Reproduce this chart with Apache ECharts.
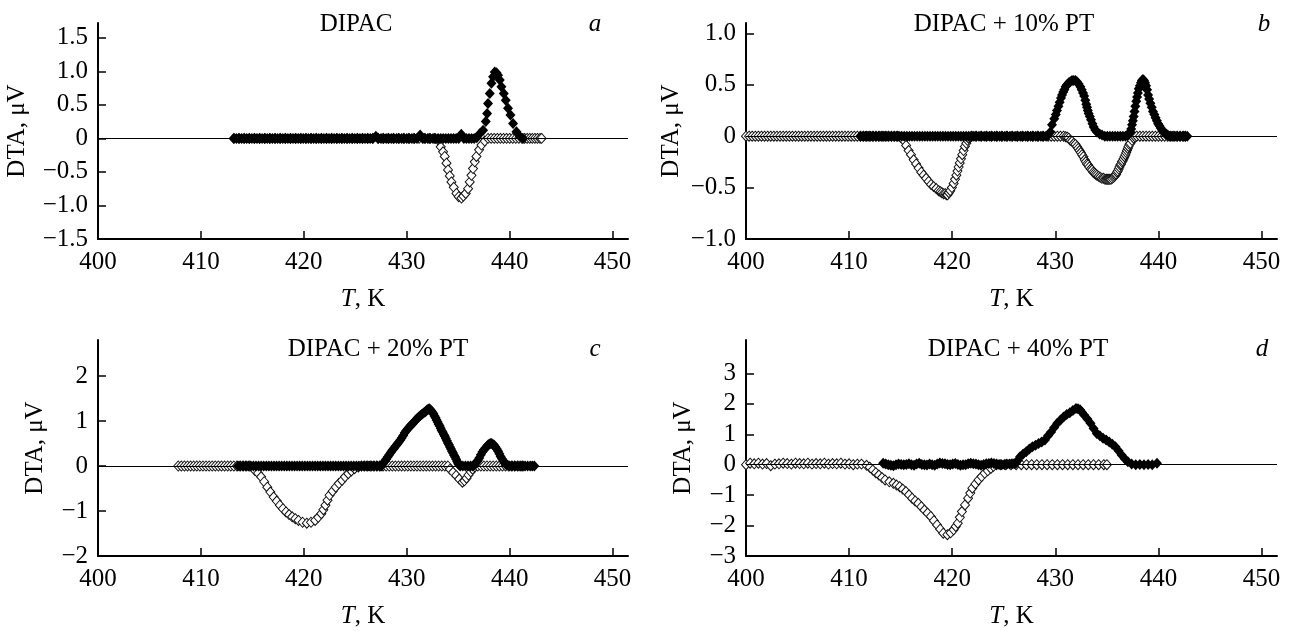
<!DOCTYPE html>
<html>
<head>
<meta charset="utf-8">
<script src="https://cdn.jsdelivr.net/npm/echarts@6/dist/echarts.min.js"></script>
<style>
html,body{margin:0;padding:0;background:#fff;}
#chart{width:1291px;height:631px;}
</style>
</head>
<body>
<div id="chart"></div>
<script>
// ---------- tick labels ----------
const xTicks = [400, 410, 420, 430, 440, 450];
const aYTicks = [-1.5, -1.0, -0.5, 0, 0.5, 1.0, 1.5];
const bYTicks = [-1.0, -0.5, 0, 0.5, 1.0];
const cYTicks = [-2, -1, 0, 1, 2];
const dYTicks = [-3, -2, -1, 0, 1, 2, 3];

const panelTitles = ['DIPAC', 'DIPAC + 10% PT', 'DIPAC + 20% PT', 'DIPAC + 40% PT'];
const panelLetters = ['a', 'b', 'c', 'd'];

// ---------- data: [T (K), DTA (µV)] ----------
// panel a: DIPAC
const aFilled = [
 [413.2,0],[413.45,0],[413.7,0],[413.95,0],[414.2,0],[414.45,0],[414.7,0],[414.95,0],[415.2,0],[415.45,0],
 [415.7,0],[415.95,0],[416.2,0],[416.45,0],[416.7,0],[416.95,0],[417.2,0],[417.45,0],[417.7,0],[417.95,0],
 [418.2,0],[418.45,0],[418.7,0],[418.95,0],[419.2,0],[419.45,0],[419.7,0],[419.95,0],[420.2,0],[420.45,0],
 [420.7,0],[420.95,0],[421.2,0],[421.45,0],[421.7,0],[421.95,0],[422.2,0],[422.45,0],[422.7,0],[422.95,0],
 [423.2,0],[423.45,0],[423.7,0],[423.95,0],[424.2,0],[424.45,0],[424.7,0],[424.95,0],[425.2,0],[425.45,0],
 [425.7,0],[425.95,0],[426.2,0],[426.45,0],[426.7,0],[427.0,0.03],[427.25,0],[427.5,0],[427.75,0],[428.0,0],
 [428.25,0],[428.5,0],[428.75,0],[429.0,0],[429.25,0],[429.5,0],[429.75,0],[430.0,0],[430.25,0],[430.5,0],
 [430.75,0],[431.0,0],[431.3,0.05],[431.55,0],[431.8,0],[432.05,0],[432.3,0],[432.55,0],[432.8,0],[433.05,0],
 [433.3,0],[433.55,0],[433.8,0],[434.05,0],[434.3,0],[434.55,0],[434.8,0],[435.05,0],[435.3,0.06],[435.55,0],
 [435.8,0],[436.05,0],[436.3,0],[436.55,0],[436.8,0.01],
 [437.09,0.07],[437.42,0.12],[437.68,0.25],[437.81,0.37],[437.9,0.52],[438.07,0.67],[438.23,0.82],
 [438.39,0.92],[438.55,0.99],[438.72,0.98],[438.87,0.94],[439.04,0.87],[439.2,0.77],[439.43,0.67],[439.62,0.57],
 [439.84,0.45],[440.08,0.35],[440.33,0.22],[440.66,0.10],[440.98,0.03],[441.3,0]
];
const aOpen = [
 [413.2,0],[413.7,0],[414.2,0],[414.7,0],[415.2,0],[415.7,0],[416.2,0],[416.7,0],[417.2,0],[417.7,0],
 [418.2,0],[418.7,0],[419.2,0],[419.7,0],[420.2,0],[420.7,0],[421.2,0],[421.7,0],[422.2,0],[422.7,0],
 [423.2,0],[423.7,0],[424.2,0],[424.7,0],[425.2,0],[425.7,0],[426.2,0],[426.7,0],[427.2,0],[427.7,0],
 [428.2,0],[428.7,0],[429.2,0],[429.7,0],[430.2,0],[430.7,0],[431.2,0],[431.7,0],[432.2,0],[432.7,0],
 [433.04,-0.02],[433.3,-0.125],[433.53,-0.20],[433.69,-0.27],[433.86,-0.37],[434.01,-0.47],[434.18,-0.56],
 [434.34,-0.65],[434.57,-0.73],[434.83,-0.82],[435.05,-0.87],[435.32,-0.89],[435.5,-0.86],[435.73,-0.82],
 [435.96,-0.75],[436.12,-0.65],[436.29,-0.55],[436.44,-0.45],[436.61,-0.35],[436.77,-0.27],[437.03,-0.17],
 [437.26,-0.10],[437.58,-0.04],[437.9,0],[438.2,0],[438.5,0],[438.8,0],[439.1,0],[439.4,0],[439.7,0],
 [440.0,0],[440.3,0],[440.6,0],[440.9,0],[441.2,0],[441.45,0],[441.7,0],[441.95,0],[442.2,0],[442.45,0],
 [442.7,0],[442.95,0],[443.1,0]
];

// panel b: DIPAC + 10% PT
const bFilled = [
 [411.1,0],[411.35,0],[411.6,0],[411.85,0],[412.1,0],[412.35,0],[412.6,0],[412.85,0],[413.1,0],[413.35,0],
 [413.6,0],[413.85,0],[414.1,0],[414.35,0],[414.6,0],[414.85,0],[415.1,0],[415.35,0],[415.6,0],[415.85,0],
 [416.1,0],[416.35,0],[416.6,0],[416.85,0],[417.1,0],[417.35,0],[417.6,0],[417.85,0],[418.1,0],[418.35,0],
 [418.6,0],[418.85,0],[419.1,0],[419.35,0],[419.6,0],[419.85,0],[420.1,0],[420.35,0],[420.6,0],[420.85,0],
 [421.1,0],[421.35,0],[421.6,0],[421.85,0],[422.1,0],[422.35,0],[422.6,0],[422.85,0],[423.1,0],[423.35,0],
 [423.6,0],[423.85,0],[424.1,0],[424.35,0],[424.6,0],[424.85,0],[425.1,0],[425.35,0],[425.6,0],[425.85,0],
 [426.1,0],[426.35,0],[426.6,0],[426.85,0],[427.1,0],[427.35,0],[427.6,0],[427.85,0],[428.1,0],[428.35,0],
 [428.6,0],[428.85,0],[429.1,0],[429.3,0.01],
 [429.52,0.04],[429.68,0.11],[429.9,0.17],[430.05,0.21],[430.16,0.25],[430.3,0.29],[430.42,0.33],[430.55,0.37],
 [430.65,0.40],[430.77,0.43],[430.87,0.45],[431.0,0.48],[431.13,0.50],[431.3,0.52],[431.46,0.53],[431.62,0.54],
 [431.78,0.54],[431.95,0.54],[432.1,0.53],[432.25,0.51],[432.43,0.48],[432.56,0.45],[432.69,0.42],[432.8,0.39],
 [432.91,0.35],[433.0,0.31],[433.07,0.28],[433.15,0.25],[433.23,0.22],[433.35,0.19],[433.46,0.16],[433.6,0.12],
 [433.72,0.09],[433.88,0.06],[434.04,0.04],[434.3,0.02],[434.53,0.01],[434.8,0],[435.05,0],[435.3,0],[435.55,0],
 [435.8,0],[436.05,0],[436.3,0],[436.55,0],[436.8,0],[437.0,0.01],[437.15,0.02],[437.28,0.04],[437.36,0.07],
 [437.44,0.11],[437.52,0.15],[437.6,0.19],[437.68,0.24],[437.76,0.29],[437.85,0.34],[437.93,0.38],[438.01,0.42],
 [438.09,0.46],[438.2,0.49],[438.31,0.52],[438.4,0.54],[438.5,0.55],[438.6,0.54],[438.7,0.52],[438.8,0.49],
 [438.9,0.45],[439.0,0.40],[439.1,0.36],[439.22,0.32],[439.35,0.28],[439.47,0.24],[439.6,0.21],[439.72,0.18],
 [439.85,0.15],[439.97,0.12],[440.1,0.10],[440.22,0.08],[440.35,0.06],[440.47,0.04],[440.6,0.03],[440.75,0.02],
 [440.9,0.01],[441.1,0],[441.35,0],[441.6,0],[441.85,0],[442.1,0],[442.35,0],[442.6,0],[442.8,0]
];
const bOpen = [
 [400.0,0],[400.3,0],[400.6,0],[400.9,0],[401.2,0],[401.5,0],[401.8,0],[402.1,0],[402.4,0],[402.7,0],
 [403.0,0],[403.3,0],[403.6,0],[403.9,0],[404.2,0],[404.5,0],[404.8,0],[405.1,0],[405.4,0],[405.7,0],
 [406.0,0],[406.3,0],[406.6,0],[406.9,0],[407.2,0],[407.5,0],[407.8,0],[408.1,0],[408.4,0],[408.7,0],
 [409.0,0],[409.3,0],[409.6,0],[409.9,0],[410.2,0],[410.5,0],[410.8,0],[411.1,0],[411.4,0],[411.7,0],
 [412.0,0],[412.3,0],[412.6,0],[412.9,0],[413.2,0],[413.5,0],[413.8,0],[414.1,0],[414.4,0],[414.7,0],
 [415.0,-0.01],[415.15,-0.02],[415.29,-0.04],[415.53,-0.09],[415.77,-0.14],[416.0,-0.18],[416.26,-0.23],
 [416.5,-0.27],[416.74,-0.31],[417.0,-0.35],[417.23,-0.38],[417.47,-0.41],[417.71,-0.44],[417.95,-0.47],
 [418.2,-0.49],[418.45,-0.51],[418.68,-0.53],[418.85,-0.54],[419.0,-0.55],[419.17,-0.56],[419.33,-0.56],
 [419.45,-0.57],[419.55,-0.57],[419.68,-0.55],[419.81,-0.53],[419.97,-0.50],[420.14,-0.46],[420.27,-0.42],
 [420.4,-0.38],[420.51,-0.34],[420.62,-0.30],[420.73,-0.26],[420.85,-0.22],[420.97,-0.18],[421.1,-0.14],
 [421.23,-0.10],[421.37,-0.07],[421.48,-0.04],[421.59,-0.02],[421.75,-0.01],[421.9,0],
 [422.3,0],[422.8,0],[423.3,0],[423.8,0],[424.3,0],[424.8,0],[425.3,0],[425.8,0],[426.3,0],[426.8,0],
 [427.3,0],[427.8,0],[428.3,0],[428.8,0],[429.3,0],[429.6,0],[429.9,0],[430.2,0],[430.5,0],[430.8,0],
 [431.0,-0.005],[431.15,-0.01],[431.3,-0.02],
 [431.45,-0.04],[431.62,-0.05],[431.8,-0.07],[431.95,-0.08],[432.1,-0.10],[432.22,-0.12],[432.35,-0.14],
 [432.47,-0.16],[432.59,-0.18],[432.72,-0.20],[432.85,-0.23],[432.96,-0.25],[433.07,-0.27],[433.18,-0.28],
 [433.3,-0.30],[433.43,-0.32],[433.56,-0.33],[433.68,-0.35],[433.8,-0.36],[433.92,-0.37],[434.04,-0.38],
 [434.2,-0.39],[434.35,-0.40],[434.52,-0.41],[434.69,-0.41],[434.82,-0.42],[434.95,-0.42],[435.06,-0.42],
 [435.17,-0.42],[435.28,-0.42],[435.4,-0.42],[435.52,-0.41],[435.65,-0.40],[435.74,-0.39],[435.82,-0.38],
 [435.9,-0.37],[435.98,-0.35],[436.06,-0.34],[436.15,-0.32],[436.22,-0.30],[436.3,-0.28],[436.38,-0.27],
 [436.46,-0.25],[436.54,-0.24],[436.62,-0.22],[436.71,-0.20],[436.8,-0.18],[436.88,-0.16],[436.95,-0.14],
 [437.03,-0.12],[437.1,-0.10],[437.19,-0.08],[437.28,-0.07],[437.44,-0.04],[437.6,-0.02],[437.75,-0.01],
 [437.9,0],[438.2,0],[438.5,0],[438.8,0],[439.1,0],[439.4,0],[439.7,0],[440.0,0],[440.3,0],[440.6,0],
 [440.9,0],[441.2,0],[441.5,0],[441.8,0],[442.1,0],[442.4,0],[442.6,0]
];

// panel c: DIPAC + 20% PT
const cFilled = [
 [413.6,0],[413.85,0],[414.1,0],[414.35,0],[414.6,0],[414.85,0],[415.1,0],[415.35,0],[415.6,0],[415.85,0],
 [416.1,0],[416.35,0],[416.6,0],[416.85,0],[417.1,0],[417.35,0],[417.6,0],[417.85,0],[418.1,0],[418.35,0],
 [418.6,0],[418.85,0],[419.1,0],[419.35,0],[419.6,0],[419.85,0],[420.1,0],[420.35,0],[420.6,0],[420.85,0],
 [421.1,0],[421.35,0],[421.6,0],[421.85,0],[422.1,0],[422.35,0],[422.6,0],[422.85,0],[423.1,0],[423.35,0],
 [423.6,0],[423.85,0],[424.1,0],[424.35,0],[424.6,0],[424.85,0],[425.1,0],[425.35,0],[425.6,0],[425.85,0],
 [426.1,0],[426.35,0],[426.6,0],[426.85,0],[427.1,0],[427.35,0],[427.55,0],
 [427.7,0.05],[427.85,0.10],[428.0,0.15],[428.15,0.20],[428.3,0.25],[428.45,0.30],[428.6,0.35],[428.75,0.39],
 [428.9,0.44],[429.05,0.48],[429.2,0.52],[429.36,0.57],[429.51,0.62],[429.66,0.68],[429.81,0.74],[429.96,0.79],
 [430.12,0.83],[430.27,0.87],[430.42,0.91],[430.57,0.94],[430.72,0.98],[430.87,1.02],[431.03,1.06],[431.18,1.09],
 [431.33,1.12],[431.48,1.15],[431.63,1.18],[431.78,1.20],[431.9,1.23],[432.0,1.25],[432.1,1.26],[432.19,1.27],
 [432.3,1.25],[432.4,1.22],[432.5,1.19],[432.59,1.16],[432.7,1.11],[432.8,1.07],[432.9,1.02],[433.0,0.98],
 [433.1,0.93],[433.2,0.89],[433.3,0.84],[433.39,0.79],[433.5,0.75],[433.6,0.70],[433.7,0.66],[433.8,0.61],
 [433.9,0.56],[434.0,0.51],[434.1,0.47],[434.2,0.42],[434.3,0.38],[434.4,0.33],[434.5,0.29],[434.6,0.24],
 [434.7,0.20],[434.8,0.15],[434.9,0.10],[435.0,0.05],[435.1,0.02],
 [435.2,0],[435.45,0],[435.7,0],[435.95,0],[436.2,0],[436.4,0],[436.6,0.02],[436.75,0.07],[436.9,0.12],
 [437.05,0.18],[437.2,0.25],[437.35,0.31],[437.5,0.36],[437.65,0.40],[437.8,0.44],[437.92,0.47],[438.05,0.49],
 [438.15,0.50],[438.25,0.50],[438.38,0.48],[438.5,0.46],[438.62,0.42],[438.75,0.38],[438.88,0.33],[439.0,0.27],
 [439.12,0.21],[439.25,0.16],[439.38,0.11],[439.5,0.07],[439.62,0.04],[439.75,0.02],
 [440.0,0],[440.25,0],[440.5,0],[440.75,0],[441.0,0],[441.25,0],[441.5,0],[441.75,0],[442.0,0],[442.2,0],[442.4,0]
];
const cOpen = [
 [407.8,0],[408.1,0],[408.4,0],[408.7,0],[409.0,0],[409.3,0],[409.6,0],[409.9,0],[410.2,0],[410.5,0],
 [410.8,0],[411.1,0],[411.4,0],[411.7,0],[412.0,0],[412.3,0],[412.6,0],[412.9,0],[413.2,0],[413.5,0],
 [413.8,0],[414.1,0],[414.4,0],[414.7,0],
 [415.0,-0.03],[415.25,-0.10],[415.55,-0.16],[415.85,-0.24],[416.15,-0.35],[416.45,-0.47],[416.75,-0.58],
 [417.07,-0.69],[417.37,-0.78],[417.67,-0.87],[417.97,-0.95],[418.27,-1.02],[418.57,-1.08],[418.87,-1.13],
 [419.17,-1.17],[419.48,-1.21],[419.88,-1.25],[420.29,-1.27],[420.7,-1.25],[421.1,-1.21],[421.4,-1.14],
 [421.7,-1.06],[421.9,-0.97],[422.1,-0.87],[422.3,-0.76],[422.5,-0.65],[422.8,-0.56],[423.1,-0.47],
 [423.4,-0.39],[423.71,-0.32],[424.0,-0.24],[424.32,-0.17],[424.62,-0.11],[424.93,-0.06],[425.3,-0.02],
 [425.6,0],[425.9,0],[426.2,0],[426.5,0],[426.8,0],[427.1,0],[427.4,0],[427.7,0],[428.0,0],[428.3,0],
 [428.6,0],[428.9,0],[429.2,0],[429.5,0],[429.8,0],[430.1,0],[430.4,0],[430.7,0],[431.0,0],[431.3,0],
 [431.6,0],[431.9,0],[432.2,0],[432.5,0],[432.8,0],[433.1,0],[433.4,0],[433.7,0],[434.0,0],
 [434.2,-0.07],[434.5,-0.14],[434.8,-0.21],[435.1,-0.29],[435.41,-0.36],[435.6,-0.33],[435.81,-0.27],
 [436.0,-0.20],[436.22,-0.13],[436.4,-0.07],[436.62,-0.02],
 [436.9,0],[437.2,0],[437.5,0],[437.8,0],[438.1,0],[438.4,0],[438.7,0],[439.0,0],[439.3,0],[439.6,0],
 [439.9,0],[440.2,0],[440.5,0],[440.8,0],[441.1,0],[441.3,0]
];

// panel d: DIPAC + 40% PT
const dFilled = [
 [413.3,0.05],[413.55,0.02],[413.8,0],[414.05,-0.02],[414.3,-0.03],[414.55,0],[414.8,0.02],[415.05,0.01],
 [415.3,0],[415.55,0.01],[415.8,0.03],[416.05,0],[416.3,-0.02],[416.55,0.02],[416.8,0.05],[417.05,0.01],
 [417.3,0],[417.55,-0.01],[417.8,0.02],[418.05,0],[418.3,-0.02],[418.55,0.02],[418.8,0.06],[419.05,0.04],
 [419.3,0.03],[419.55,0.01],[419.8,0],[420.05,0.02],[420.3,0.04],[420.55,0.01],[420.8,-0.02],[421.05,0],
 [421.3,0],[421.55,0.03],[421.8,0.05],[422.05,0.03],[422.3,0.02],[422.55,0],[422.8,-0.02],[423.05,0.01],
 [423.3,0.03],[423.55,0.04],[423.8,0.06],[424.05,0.04],[424.3,0.02],[424.55,0.01],[424.8,0],[425.05,0.01],
 [425.3,0.02],[425.55,0.02],[425.8,0.03],[426.0,0.03],
 [426.17,0.05],[426.38,0.15],[426.58,0.26],[426.88,0.35],[427.18,0.43],[427.48,0.52],[427.78,0.59],
 [428.08,0.64],[428.38,0.70],[428.68,0.75],[428.99,0.81],[429.29,0.95],[429.59,1.08],[429.89,1.22],
 [430.19,1.36],[430.5,1.47],[430.8,1.57],[431.1,1.65],[431.4,1.71],[431.7,1.78],[432.0,1.85],[432.2,1.84],
 [432.4,1.81],[432.6,1.72],[432.81,1.63],[433.11,1.50],[433.41,1.36],[433.71,1.19],[434.02,1.03],
 [434.32,0.95],[434.63,0.87],[434.93,0.81],[435.23,0.75],[435.53,0.67],[435.83,0.59],[436.13,0.46],
 [436.43,0.32],[436.73,0.20],[437.04,0.10],[437.4,0.02],[437.8,0],[438.2,0.01],[438.6,0],[439.0,0.01],
 [439.4,0],[439.86,0.05]
];
const dOpen = [
 [400.0,0],[400.4,0.05],[400.8,0.03],[401.2,0.05],[401.6,0.02],[402.0,0.04],[402.4,-0.03],[402.8,0.02],
 [403.2,0.03],[403.6,0.05],[404.0,0.04],[404.4,0.02],[404.8,0.05],[405.2,0.04],[405.6,0.03],[406.0,0.05],
 [406.4,0.02],[406.8,0.04],[407.2,0.03],[407.6,0.05],[408.0,0.02],[408.4,0.04],[408.8,0.03],[409.2,0.05],
 [409.6,0.02],[410.0,0.03],[410.4,0],[410.8,0.02],[411.2,0.02],[411.7,-0.02],
 [412.0,-0.08],[412.29,-0.17],[412.59,-0.26],[412.89,-0.34],[413.19,-0.42],[413.49,-0.50],[413.9,-0.56],
 [414.3,-0.61],[414.6,-0.67],[414.9,-0.72],[415.2,-0.80],[415.51,-0.88],[415.81,-0.99],[416.11,-1.10],
 [416.41,-1.19],[416.71,-1.27],[417.01,-1.38],[417.31,-1.49],[417.61,-1.59],[417.92,-1.70],[418.22,-1.84],
 [418.53,-1.98],[418.83,-2.12],[419.13,-2.25],[419.53,-2.30],[419.84,-2.24],[420.14,-2.14],[420.34,-2.03],
 [420.54,-1.92],[420.74,-1.73],[420.94,-1.54],[421.24,-1.32],[421.54,-1.10],[421.75,-0.93],[421.95,-0.77],
 [422.25,-0.63],[422.55,-0.50],[422.85,-0.39],[423.15,-0.28],[423.45,-0.20],[423.75,-0.12],[424.0,-0.05],
 [424.3,0],[424.7,0],[425.2,0],[425.7,0],[426.2,0],[426.7,0],[427.2,0],[427.7,0],[428.2,0],[428.7,0],
 [429.2,0],[429.7,0],[430.2,0],[430.7,0],[431.2,0],[431.7,0],[432.2,0],[432.7,0],[433.2,0],[433.7,0],
 [434.2,0],[434.7,0],[435.0,0]
];

// ---------- chart ----------
const FONT = 'Liberation Serif';
const FS = 25;

const grids = [
  {left: 98, top: 23, width: 530, height: 216},
  {left: 746, top: 23, width: 531, height: 216},
  {left: 98, top: 340, width: 530, height: 216},
  {left: 746, top: 340, width: 531, height: 216}
];
const yRanges = [[-1.5, 1.72], [-1.0, 1.1], [-2, 2.8], [-3, 4.1]];
const yTickSets = [aYTicks, bYTicks, cYTicks, dYTicks];
const yDecimals = [1, 1, 0, 0];
const yNameGaps = [68, 62, 50, 50];
const filledSets = [aFilled, bFilled, cFilled, dFilled];
const openSets = [aOpen, bOpen, cOpen, dOpen];

function fmt(dec) {
  return function (v) {
    if (Math.abs(v) < 1e-9) return '0';
    return (v < 0 ? '\u2212' : '') + Math.abs(v).toFixed(dec);
  };
}

const xAxes = grids.map((g, i) => ({
  type: 'value', gridIndex: i, min: 400, max: 451.5,
  name: '{i|T}, K', nameLocation: 'middle', nameGap: 48,
  nameTextStyle: {fontFamily: FONT, fontSize: FS, color: '#000',
    rich: {i: {fontFamily: FONT, fontSize: FS, fontStyle: 'italic', color: '#000'}}},
  axisLine: {show: true, onZero: false, lineStyle: {color: '#000', width: 2}},
  axisTick: {show: true, inside: true, length: 8, lineStyle: {color: '#000', width: 1.5}, customValues: xTicks},
  axisLabel: {show: true, margin: 11, fontFamily: FONT, fontSize: FS, color: '#000', customValues: xTicks,
    formatter: v => String(v)},
  splitLine: {show: false}
}));

const yAxes = grids.map((g, i) => ({
  type: 'value', gridIndex: i, min: yRanges[i][0], max: yRanges[i][1],
  name: 'DTA, \u03bcV', nameLocation: 'middle', nameGap: yNameGaps[i], nameRotate: 90,
  nameTextStyle: {fontFamily: FONT, fontSize: FS, color: '#000'},
  axisLine: {show: true, onZero: false, lineStyle: {color: '#000', width: 2}},
  axisTick: {show: true, inside: true, length: 8, lineStyle: {color: '#000', width: 1.5}, customValues: yTickSets[i]},
  axisLabel: {show: true, margin: 10, fontFamily: FONT, fontSize: FS, color: '#000', customValues: yTickSets[i],
    formatter: fmt(yDecimals[i])},
  splitLine: {show: false}
}));

const series = [];
grids.forEach((g, i) => {
  series.push({
    type: 'scatter', xAxisIndex: i, yAxisIndex: i, data: openSets[i],
    symbol: 'diamond', symbolSize: [9, 10],
    itemStyle: {color: '#fff', borderColor: '#111', borderWidth: 1, opacity: 1},
    markLine: {silent: true, symbol: ['none', 'none'], label: {show: false},
      lineStyle: {color: '#000', width: 1, type: 'solid'}, data: [{yAxis: 0}], animation: false},
    z: 2
  });
  series.push({
    type: 'scatter', xAxisIndex: i, yAxisIndex: i, data: filledSets[i],
    symbol: 'diamond', symbolSize: [10, 11],
    itemStyle: {color: '#000', borderColor: '#000', borderWidth: 0, opacity: 1},
    z: 3
  });
});

const titlePos = [[356, 24], [1004, 24], [378, 349], [1018, 349]];
const letterPos = [[595, 24], [1264, 24], [595, 349], [1262, 349]];
const graphics = [];
panelTitles.forEach((t, i) => {
  graphics.push({type: 'text', x: titlePos[i][0], y: titlePos[i][1],
    style: {text: t, fontFamily: FONT, fontSize: FS, fill: '#000', align: 'center', verticalAlign: 'middle'}});
  graphics.push({type: 'text', x: letterPos[i][0], y: letterPos[i][1],
    style: {text: panelLetters[i], fontFamily: FONT, fontSize: FS, fontStyle: 'italic', fill: '#000', align: 'center', verticalAlign: 'middle'}});
});

const chart = echarts.init(document.getElementById('chart'), null, {renderer: 'canvas'});
chart.setOption({
  animation: false,
  backgroundColor: '#fff',
  grid: grids,
  xAxis: xAxes,
  yAxis: yAxes,
  series: series,
  graphic: graphics
});
</script>
</body>
</html>
